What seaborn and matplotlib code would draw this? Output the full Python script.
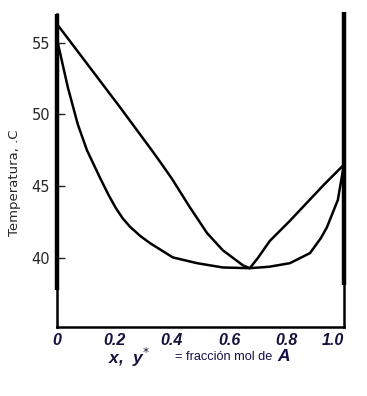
import matplotlib.pyplot as plt
import pandas as pd
import seaborn as sns

# vapour (dew) curve, y* vs T
vap_x = [0.0, 0.220, 0.331, 0.365, 0.40, 0.43, 0.463, 0.523, 0.578, 0.648, 0.672,
         0.700, 0.742, 0.812, 0.871, 0.93, 1.0]
vap_t = [56.3, 50.5, 47.5, 46.55, 45.55, 44.6, 43.55, 41.75, 40.55, 39.5, 39.3,
         40.0, 41.2, 42.6, 43.85, 45.1, 46.5]

# liquid (bubble) curve, x vs T
liq_x = [0.0, 0.003, 0.038, 0.073, 0.105, 0.150, 0.18, 0.205, 0.23, 0.254, 0.29,
         0.324, 0.404, 0.488, 0.578, 0.672, 0.74, 0.812, 0.882, 0.92, 0.941,
         0.979, 1.0]
liq_t = [55.6, 55.0, 51.9, 49.3, 47.5, 45.6, 44.4, 43.5, 42.75, 42.2, 41.55,
         41.05, 40.05, 39.65, 39.35, 39.3, 39.4, 39.65, 40.35, 41.4, 42.15,
         44.05, 46.5]

x_ticks = [0.0, 0.2, 0.4, 0.6, 0.8, 1.0]
x_labels = ["0", "0.2", "0.4", "0.6", "0.8", "1.0"]
y_ticks = [40, 45, 50, 55]

sns.set_style("white")
plt.rcParams["font.family"] = ["DejaVu Sans"]

fig = plt.figure(figsize=(3.67, 3.96), dpi=100)
ax = fig.add_axes([0.155, 0.174, 0.782, 0.791])

vap = pd.DataFrame({"x": vap_x, "T": vap_t})
liq = pd.DataFrame({"x": liq_x, "T": liq_t})
sns.lineplot(data=vap, x="x", y="T", ax=ax, color="black", lw=1.8, sort=False)
sns.lineplot(data=liq, x="x", y="T", ax=ax, color="black", lw=1.8, sort=False)

ax.set_xlim(0, 1.0)
ax.set_ylim(35.2, 57.0)

# thick parts of the frame lines
ax.plot([0, 0], [37.8, 57.0], color="black", lw=3.2, clip_on=False, solid_capstyle="butt")
ax.plot([1, 1], [38.1, 57.1], color="black", lw=3.2, clip_on=False, solid_capstyle="butt")

for side in ["left", "right", "bottom"]:
    ax.spines[side].set_color("black")
    ax.spines[side].set_linewidth(1.8)
ax.spines["top"].set_visible(False)

ax.set_yticks(y_ticks)
ax.tick_params(axis="y", direction="in", length=6, width=1, labelsize=10.5, pad=5,
               left=True)
ax.set_xticks(x_ticks)
ax.set_xticklabels(x_labels, fontsize=11.5, fontweight="bold", style="italic",
                   color="#14143c", family=["Liberation Sans Narrow", "Liberation Sans"])
ax.get_xticklabels()[-1].set_horizontalalignment("right")
ax.tick_params(axis="x", length=0, pad=4)

ax.set_xlabel("")
ax.set_ylabel("Temperatura, .C", fontsize=9.5)
ax.yaxis.set_label_coords(-0.125, 0.46)

fig.text(0.294, 0.097, "x,  y$^{*}$", fontsize=12.5, fontweight="bold", style="italic",
         color="#14143c", va="center", family="Liberation Sans")
fig.text(0.477, 0.099, "= fracción mol de", fontsize=9.2, color="#10104a", va="center",
         family="Liberation Sans")
fig.text(0.757, 0.099, "A", fontsize=12.5, fontweight="bold", style="italic",
         color="#10104a", va="center", family="Liberation Sans")

fig.savefig("out.png", dpi=100)
